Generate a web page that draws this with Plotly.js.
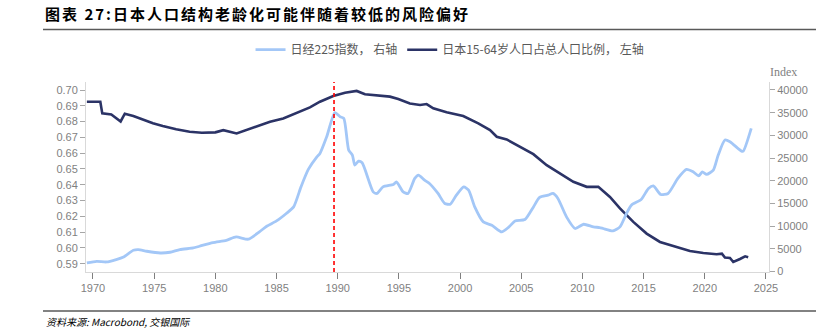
<!DOCTYPE html>
<html>
<head>
<meta charset="utf-8">
<script src="https://cdn.plot.ly/plotly-3.0.1.min.js"></script>
<style>
html,body{margin:0;padding:0;background:#fff;}
#chart{width:816px;height:336px;}
#chart .gtitle{letter-spacing:2px;}
</style>
</head>
<body>
<div id="chart"></div>
<script>
// 日经225指数 (right axis)
const nikkeiYears = [1969.5,1970.3,1971.1,1971.9,1972.5,1973.3,1973.7,1974.4,1975.5,1976.3,1977.1,1978.2,1978.7,1979.8,1980.9,1981.7,1982.7,1983.6,1984.2,1985.0,1985.8,1986.4,1987.0,1987.6,1988.3,1988.55,1989.1,1989.77,1990.2,1990.5,1990.9,1991.2,1991.4,1991.7,1992.0,1992.9,1993.2,1993.7,1994.55,1994.8,1995.35,1995.75,1996.3,1996.6,1997.1,1997.5,1998.2,1998.75,1999.2,1999.7,2000.3,2000.7,2001.2,2001.9,2002.6,2003.4,2004.0,2004.5,2005.3,2006.0,2006.5,2007.2,2007.6,2008.0,2008.7,2009.4,2010.1,2010.9,2011.4,2011.7,2012.5,2013.07,2013.6,2014.0,2014.8,2015.4,2015.8,2016.4,2017.0,2017.8,2018.5,2019.05,2019.5,2019.8,2020.15,2020.7,2021.1,2021.65,2022.06,2023.0,2023.15,2023.8];
const nikkeiValues = [1900,2270,2120,2650,3220,4700,4850,4480,4100,4260,4850,5200,5580,6400,6900,7630,7130,8740,9990,11160,12800,14250,18660,22500,25280,26030,29690,35000,34100,33750,26760,25660,23450,24330,23960,17560,17210,18660,19190,19770,17560,17210,20520,21240,20140,19410,17210,15000,14850,16830,18660,17940,14250,10940,10210,8740,9840,11160,11470,14250,16330,16830,17210,16100,12050,9490,10430,9840,9710,9490,8960,9840,12800,14630,15880,18310,18880,16990,17210,20520,22500,21970,21090,21970,21400,22350,25660,28970,28590,26540,26540,31550];

// 日本15-64岁人口占总人口比例 (left axis)
const popYears = [1969.5,1970.6,1970.76,1971.5,1972.26,1972.6,1973.3,1974.1,1974.9,1975.7,1976.8,1977.9,1978.9,1980.0,1980.65,1981.74,1982.56,1983.65,1984.47,1985.55,1986.65,1987.73,1988.55,1989.64,1990.6,1991.55,1992.23,1993.19,1994.27,1994.95,1995.9,1996.73,1997.27,1997.81,1998.9,2000.26,2001.49,2002.45,2003.0,2003.81,2004.9,2005.99,2007.08,2008.17,2009.26,2010.35,2011.3,2012.25,2013.07,2014.16,2015.25,2016.34,2017.43,2018.79,2019.88,2020.97,2021.4,2021.65,2022.06,2022.33,2022.88,2023.3,2023.55];
const popValues = [0.6926,0.6926,0.6852,0.6845,0.6801,0.6850,0.6835,0.6810,0.6789,0.6772,0.6751,0.6736,0.6729,0.6732,0.6746,0.6725,0.6746,0.6778,0.6799,0.6820,0.6856,0.6890,0.6926,0.6962,0.6983,0.6994,0.6973,0.6964,0.6958,0.6943,0.6915,0.6905,0.6911,0.6884,0.6859,0.6835,0.6789,0.6746,0.6704,0.6687,0.6640,0.6594,0.6524,0.6472,0.6419,0.6387,0.6387,0.6323,0.6250,0.6165,0.6091,0.6038,0.6011,0.5981,0.5968,0.5960,0.5964,0.5939,0.5937,0.5911,0.5930,0.5947,0.5941];

const xTicks = [1970,1975,1980,1985,1990,1995,2000,2005,2010,2015,2020,2025];
const leftTicks = [0.59,0.60,0.61,0.62,0.63,0.64,0.65,0.66,0.67,0.68,0.69,0.70];
const rightTicks = [0,5000,10000,15000,20000,25000,30000,35000,40000];
const peakYear = 1989.7;

const tickFont = {family: 'Liberation Sans, Arial, sans-serif', size: 11, color: '#7f7f7f'};

const traces = [
  {x: nikkeiYears, y: nikkeiValues, yaxis: 'y2', type: 'scatter', mode: 'lines',
   name: '日经225指数， 右轴', line: {color: '#a3c7f7', width: 2.8, shape: 'spline', smoothing: 0.6}},
  {x: popYears, y: popValues, yaxis: 'y', type: 'scatter', mode: 'lines',
   name: '日本15-64岁人口占总人口比例， 左轴', line: {color: '#2b3366', width: 2.6}}
];

const layout = {
  width: 816, height: 336,
  margin: {l: 86, r: 47, t: 82, b: 64},
  paper_bgcolor: '#ffffff', plot_bgcolor: '#ffffff',
  showlegend: true,
  legend: {orientation: 'h', x: 0.533, xanchor: 'center', y: 1.17, yanchor: 'middle',
    font: {family: 'Noto Sans CJK SC, sans-serif', size: 12, color: '#595959'},
    traceorder: 'normal', itemwidth: 30},
  title: {text: '<b>图表 27:日本人口结构老龄化可能伴随着较低的风险偏好</b>', xref: 'container', yref: 'container',
    x: 45/816, xanchor: 'left', y: 1 - 15/336, yanchor: 'middle',
    font: {family: 'Noto Sans CJK SC, sans-serif', size: 15, color: '#000000'}},
  xaxis: {range: [1969.43, 2025.25], tickvals: xTicks, ticktext: xTicks.map(String),
    showgrid: false, zeroline: false, showline: true, linecolor: '#d9d9d9', linewidth: 1,
    ticks: 'outside', ticklen: 6, tickcolor: '#7f7f7f', tickfont: tickFont},
  yaxis: {range: [0.58478, 0.70507], tickvals: leftTicks, tickformat: '.2f',
    showgrid: false, zeroline: false, showline: true, linecolor: '#d9d9d9', linewidth: 1,
    ticks: 'outside', ticklen: 5, tickcolor: '#a6a6a6', tickfont: tickFont},
  yaxis2: {range: [-90, 41760], tickvals: rightTicks, tickformat: 'd', overlaying: 'y', side: 'right',
    showgrid: false, zeroline: false, showline: true, linecolor: '#d9d9d9', linewidth: 1,
    ticks: 'outside', ticklen: 5, tickcolor: '#a6a6a6', tickfont: tickFont},
  shapes: [
    {type: 'line', xref: 'x', yref: 'paper', x0: peakYear, x1: peakYear, y0: 0, y1: 1,
     line: {color: '#ff0000', width: 1.6, dash: '4px,3px'}},
    {type: 'line', xref: 'paper', yref: 'paper', x0: (43-86)/683, x1: (816-86)/683, y0: 1 + (82-29.5)/190, y1: 1 + (82-29.5)/190,
     line: {color: '#595959', width: 1.5}},
    {type: 'line', xref: 'paper', yref: 'paper', x0: (43-86)/683, x1: (816-86)/683, y0: (272-311)/190, y1: (272-311)/190,
     line: {color: '#595959', width: 1.5}}
  ],
  annotations: [
    {text: 'Index', xref: 'paper', yref: 'paper', x: (783-86)/683, y: 1 + 10/190, xanchor: 'center', yanchor: 'middle',
     showarrow: false, font: {family: 'Liberation Serif, serif', size: 12, color: '#7f7f7f'}},
    {text: '<i>资料来源: Macrobond, 交银国际</i>', xref: 'paper', yref: 'paper', x: (44-86)/683, y: (272-321)/190,
     xanchor: 'left', yanchor: 'middle', showarrow: false,
     font: {family: 'Noto Sans CJK SC, sans-serif', size: 10, color: '#000000'}}
  ]
};

Plotly.newPlot('chart', traces, layout, {displayModeBar: false, staticPlot: true});
</script>
</body>
</html>
